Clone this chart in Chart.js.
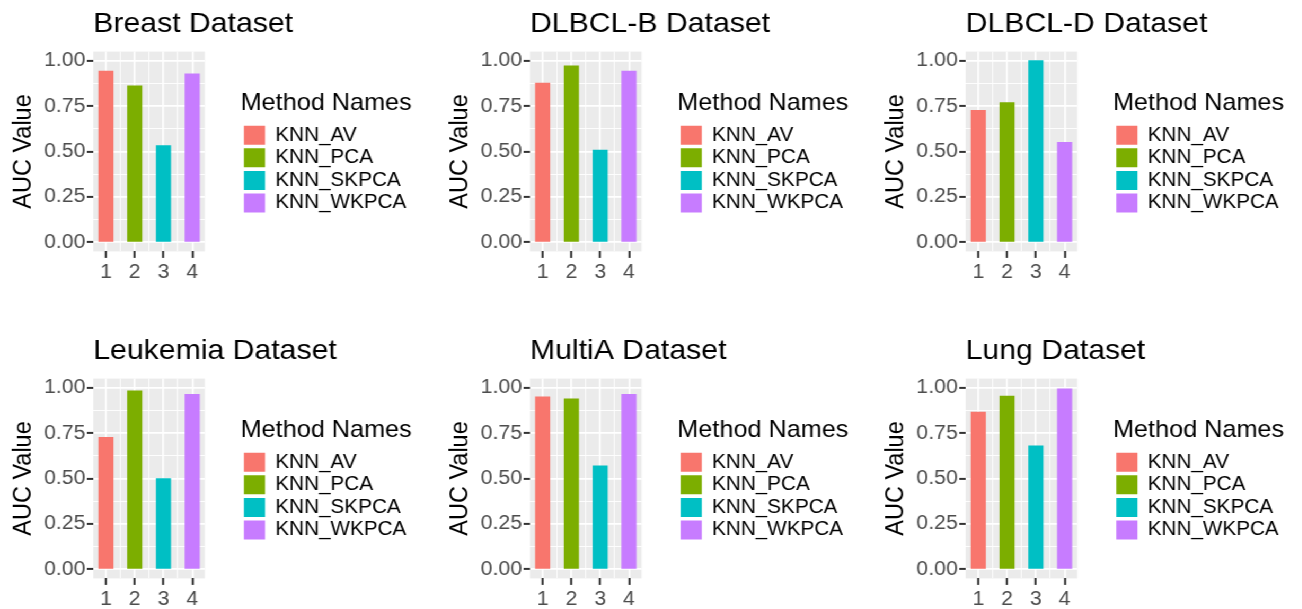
<!DOCTYPE html>
<html>
<head>
<meta charset="utf-8">
<script src="https://cdn.jsdelivr.net/npm/chart.js@4.4.1/dist/chart.umd.min.js"></script>
<style>
  html, body { margin: 0; padding: 0; background: #ffffff; overflow: hidden; }
  body { width: 1302px; height: 609px; }
  #stage { position: absolute; left: 0; top: 0; width: 1229px; height: 609px;
           transform: scaleX(1.06); transform-origin: 0 0; }
  .cell { position: absolute; width: 411px; height: 282px; }
  canvas { display: block; }
</style>
</head>
<body>
<div id="stage"></div>
<script>
// ---------------- data ----------------
const categories = [1, 2, 3, 4];
const xTickLabels = ['1', '2', '3', '4'];
const xMinorTicks = [1.5, 2.5, 3.5];
const methodNames = ['KNN_AV', 'KNN_PCA', 'KNN_SKPCA', 'KNN_WKPCA'];
const methodColors = ['#F8766D', '#7CAE00', '#00BFC4', '#C77CFF'];
const datasetTitles = ['Breast Dataset', 'DLBCL-B Dataset', 'DLBCL-D Dataset',
                       'Leukemia Dataset', 'MultiA Dataset', 'Lung Dataset'];
const breastAUC   = [0.943, 0.862, 0.532, 0.928];
const dlbclBAUC   = [0.877, 0.972, 0.508, 0.943];
const dlbclDAUC   = [0.726, 0.769, 1.000, 0.550];
const leukemiaAUC = [0.726, 0.983, 0.500, 0.963];
const multiAAUC   = [0.950, 0.938, 0.570, 0.963];
const lungAUC     = [0.866, 0.954, 0.680, 0.993];
const yMajorTicks = [0, 0.25, 0.5, 0.75, 1];
const yTickLabels = ['0.00', '0.25', '0.50', '0.75', '1.00'];
const yMinorTicks = [0.125, 0.375, 0.625, 0.875];
const legendTitle = 'Method Names';
const yAxisTitle = 'AUC Value';
const panelValues = [breastAUC, dlbclBAUC, dlbclDAUC, leukemiaAUC, multiAAUC, lungAUC];

// ---------------- layout / style ----------------
const FONT = "'Liberation Sans', Arial, Helvetica, sans-serif";
Chart.defaults.font.family = FONT;
const CELL_W = 411, CELL_H = 282, CELL_PITCH_X = 411.65, CELL_PITCH_Y = 327;
const PAD_L = 4, AREA_L = 88, AREA_R = 193.3, AREA_T = 51.6, AREA_B = 251.4;
const GAP_W = 33.7;
const TICK_COLOR = '#4D4D4D';

const panelBackground = {
  id: 'panelBackground',
  beforeDraw(chart) {
    const a = chart.chartArea, ctx = chart.ctx;
    ctx.save();
    ctx.fillStyle = '#EBEBEB';
    ctx.fillRect(a.left, a.top, a.right - a.left, a.bottom - a.top);
    ctx.restore();
  }
};
const panelTitle = {
  id: 'panelTitle',
  afterDraw(chart, args, opts) {
    const ctx = chart.ctx;
    ctx.save();
    ctx.font = '28.5px ' + FONT;
    ctx.fillStyle = '#000000';
    ctx.textAlign = 'left';
    ctx.textBaseline = 'alphabetic';
    ctx.fillText(opts.text, chart.chartArea.left, 32.3);
    ctx.restore();
  }
};

const isMajorY = v => yMajorTicks.indexOf(v) >= 0;
const isMajorX = v => categories.indexOf(v) >= 0;
const stage = document.getElementById('stage');

panelValues.forEach((vals, p) => {
  const col = p % 3, row = Math.floor(p / 3);
  const cell = document.createElement('div');
  cell.className = 'cell';
  cell.style.left = (col * CELL_PITCH_X) + 'px';
  cell.style.top = (row * CELL_PITCH_Y) + 'px';
  const canvas = document.createElement('canvas');
  canvas.width = CELL_W; canvas.height = CELL_H;
  cell.appendChild(canvas);
  stage.appendChild(cell);

  const chart = new Chart(canvas, {
    type: 'bar',
    data: {
      datasets: [{
        data: categories.map((c, i) => ({ x: c, y: vals[i] })),
        backgroundColor: methodColors,
        borderWidth: 0,
        // bar width = spacing of the half-unit tick grid, i.e. 0.5 data units
        barPercentage: 1.0,
        categoryPercentage: 1.0
      }]
    },
    options: {
      responsive: false,
      animation: false,
      events: [],
      layout: { padding: { left: PAD_L, right: 20, top: AREA_T, bottom: 0 } },
      scales: {
        x: {
          type: 'linear', min: 0.56, max: 4.44, offset: false,
          afterBuildTicks: s => { s.ticks = categories.concat(xMinorTicks).sort((a, b) => a - b).map(v => ({ value: v })); },
          afterFit: s => { s.height = CELL_H - AREA_B; },
          border: { display: false },
          grid: {
            offset: false,
            color: '#FFFFFF',
            lineWidth: c => isMajorX(c.tick.value) ? 1.7 : 0.9,
            tickColor: c => isMajorX(c.tick.value) ? '#333333' : 'rgba(0,0,0,0)',
            tickWidth: 2,
            tickLength: 6.5
          },
          ticks: {
            autoSkip: false, maxRotation: 0, padding: 3,
            color: TICK_COLOR, font: { size: 20 },
            callback: v => { const i = categories.indexOf(v); return i >= 0 ? xTickLabels[i] : ''; }
          }
        },
        y: {
          type: 'linear', min: -0.05, max: 1.05, position: 'left',
          afterBuildTicks: s => { s.ticks = yMajorTicks.concat(yMinorTicks).sort((a, b) => a - b).map(v => ({ value: v })); },
          afterFit: s => { s.width = AREA_L - PAD_L; },
          border: { display: false },
          grid: {
            color: '#FFFFFF',
            lineWidth: c => isMajorY(c.tick.value) ? 1.8 : 0.9,
            tickColor: c => isMajorY(c.tick.value) ? '#333333' : 'rgba(0,0,0,0)',
            tickWidth: 2,
            tickLength: 6
          },
          ticks: {
            autoSkip: false, padding: 1.5,
            color: TICK_COLOR, font: { size: 20 },
            callback: v => { const i = yMajorTicks.indexOf(v); return i >= 0 ? yTickLabels[i] : ''; }
          },
          title: {
            display: true, text: yAxisTitle, color: '#000000',
            font: { size: 23.5 }, padding: { top: 4.5, bottom: 0 }
          }
        },
        gap: {
          type: 'linear', position: 'right', display: true,
          afterFit: s => { s.width = GAP_W; },
          grid: { display: false }, border: { display: false }, ticks: { display: false }
        }
      },
      plugins: {
        tooltip: { enabled: false },
        panelTitle: { text: datasetTitles[p] },
        legend: {
          display: true, position: 'right', align: 'start', fullSize: false, maxWidth: 220,
          title: {
            display: true, text: legendTitle, position: 'start', color: '#000000',
            font: { size: 23.8 }, padding: { top: 39.7, bottom: 2.5 }
          },
          labels: {
            boxWidth: 20, boxHeight: 19, padding: 3.1, color: '#000000',
            font: { size: 19.5 },
            generateLabels: () => methodNames.map((n, i) => ({
              text: n, fillStyle: methodColors[i], strokeStyle: methodColors[i],
              lineWidth: 0, hidden: false, index: i, fontColor: '#000000'
            }))
          }
        }
      }
    },
    plugins: [panelBackground, panelTitle]
  });
  const d = chart.chartArea.right - AREA_R;
  chart.options.layout.padding = { left: PAD_L, right: 20 + d, top: AREA_T, bottom: 0 };
  chart.update('none');
});
</script>
</body>
</html>
